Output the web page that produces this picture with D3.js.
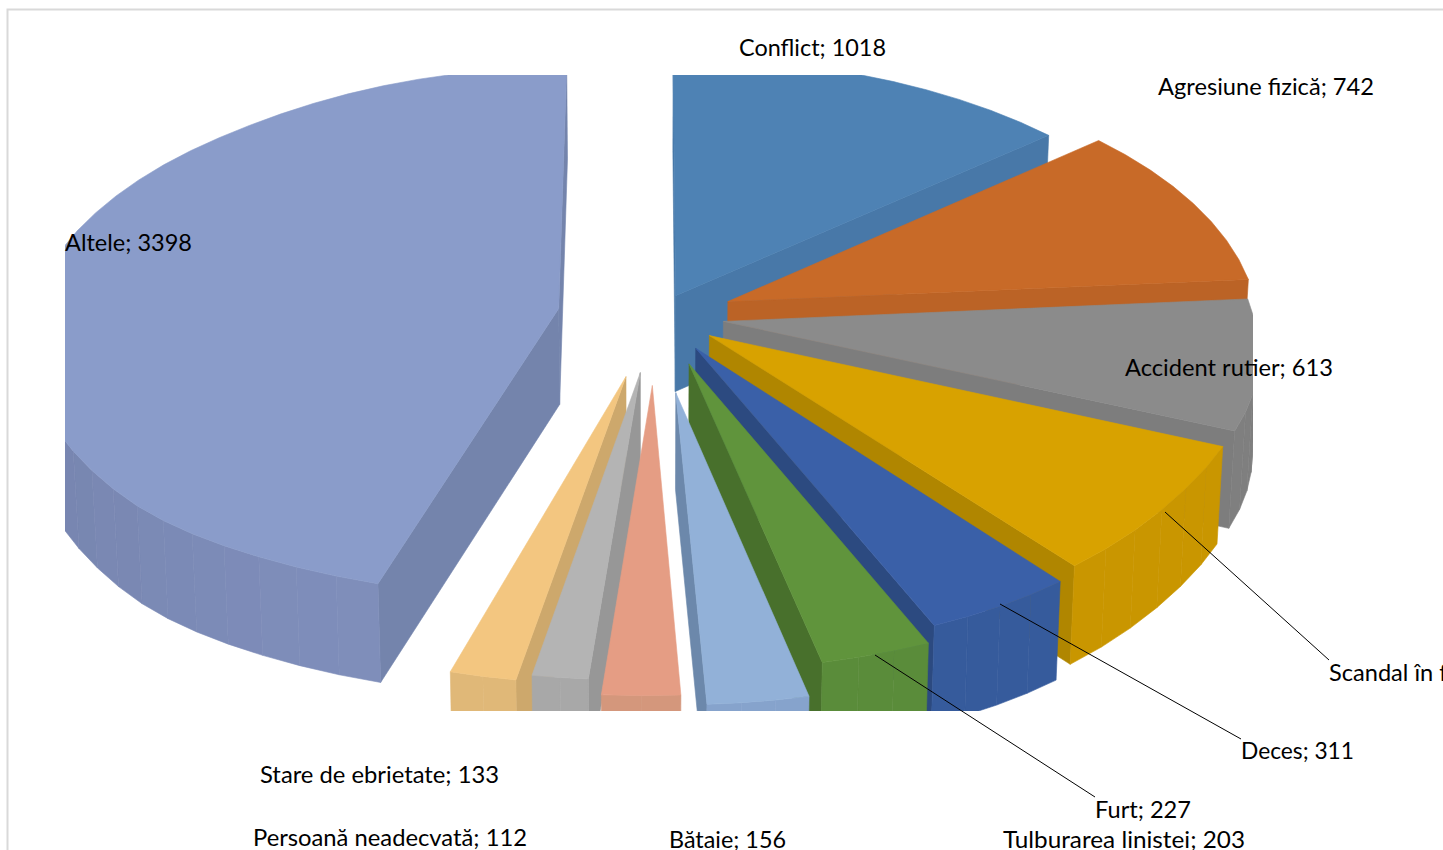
<!DOCTYPE html>
<html><head><meta charset="utf-8">
<script src="https://cdn.jsdelivr.net/npm/d3@7"></script>
<style>html,body{margin:0;padding:0;background:#fff;overflow:hidden}svg{display:block}text{font-family:Lato,sans-serif;fill:#000}</style>
</head><body><svg id="c" width="1443" height="850"></svg>
<script>
// ---- data ----
const categories = ["Conflict","Agresiune fizică","Accident rutier","Scandal în familie","Deces","Furt","Tulburarea linistei","Bătaie","Persoană neadecvată","Stare de ebrietate","Altele"];
const values = [1018,742,613,530,311,227,203,156,112,133,3398];
// ---- styling / layout ----
const topColors  = ["#4e82b4","#c86a28","#8b8b8b","#d8a200","#3a60a8","#60943c","#92b1d8","#e59d84","#b4b4b4","#f3c680","#8a9cca"];
const wallColors = ["#4878a8","#bb6326","#7d7d7d","#b08600","#2c4a80","#48702c","#6c88ab","#d4917a","#979797","#cda86c","#7484ac"];
const rimColors  = ["#4878a8","#bb6326","#7f7f7f","#c99600","#365b9c","#5a8c3a","#86a3cc","#d4977c","#a8a8a8","#e0b878","#7f8ebb"];
const explosion  = [.09,.16,.14,.14,.156,.208,.297,.267,.222,.24,.17];
const explodeNudgeDeg = [11,0,0,0,0,0,0,0,0,0,6];
const explodeShiftX = [0,.004,.004,.004,.006,.008,.006,.008,.011,.011,-.004];
const explodeShiftY = [0,.011,0,-.008,-.008,-.015,-.008,-.008,-.008,-.008,0];
const drawOrder = [0,1,2,3,4,5,6,10,9,8,7];
const labelX = [739,1158,1125,1329,1241,1095,1003,669,253,260,65];
const labelY = [56,95,376,681,759,818,848,848,846,783,251];
const labelW = [147,216,208,null,113,96,242,117,274,239,127];
const leaderFrom = {3:[1165,512],4:[1000,604],5:[875,655]};
const leaderTo   = {3:[1329,660],4:[1241,739],5:[1095,797]};
const FONT = 23.6;
// ---- camera ----
const u0=648,v0=315,a=530,b=265,k=.098;
const xS=d3.scaleLinear().domain([0,1]).range([u0,u0+a]);
const yS=d3.scaleLinear().domain([0,1]).range([v0,v0+b]);
const sstep=(e0,e1,x)=>{const t=Math.max(0,Math.min(1,(x-e0)/(e1-e0)));return t*t*(3-2*t)};
function proj(X,Y){
  const w=1-k*Y;
  const g=Math.exp(-Math.pow((Y-.5)/.25,2));
  const right=Math.max(0,X)*g;
  const left=9*sstep(0,.35,-X)*(1-sstep(.6,.9,Y))*sstep(-1.2,-.75,Y);
  const front=7*sstep(0,.3,X)*Math.exp(-Math.pow((Y-.92)/.25,2));
  const farLeft=-4*sstep(.6,.9,Y)*sstep(.3,.38,-X);
  const p=[xS(X/w)-10*sstep(.45,1,Y)/w+5*right+farLeft, yS(Y/w)-7*right+left+front];
  p.Y=Y;
  return p;
}
const low=p=>[u0+(p[0]-u0)*.99,p[1]+96+3*p.Y];
const svg=d3.select("#c");
svg.append("rect").attr("x",7.5).attr("y",9.5).attr("width",1600).attr("height",1000).attr("fill","#fff").attr("stroke","#d9d9d9").attr("stroke-width",2);
svg.append("clipPath").attr("id","plot").append("rect").attr("x",65).attr("y",75).attr("width",1188).attr("height",636);
const plot=svg.append("g").attr("clip-path","url(#plot)");
const arcs=d3.pie().sort(null).startAngle(0).endAngle(2*Math.PI)(values);
const line=d3.line();
const area=q=>{let s=0;q.forEach((p,i)=>{const n=q[(i+1)%q.length];s+=p[0]*n[1]-n[0]*p[1]});return s/2};
drawOrder.forEach(i=>{
  const d=arcs[i], mid=(d.startAngle+d.endAngle)/2+explodeNudgeDeg[i]*Math.PI/180;
  const ex=explosion[i]*Math.sin(mid)+explodeShiftX[i], ey=-explosion[i]*Math.cos(mid)+explodeShiftY[i];
  const apex=proj(ex,ey);
  const n=Math.max(2,Math.ceil((d.endAngle-d.startAngle)/(4.5*Math.PI/180)));
  const th=d3.range(n+1).map(j=>d.startAngle+(d.endAngle-d.startAngle)*j/n);
  const rim=th.map(t=>proj(ex+Math.sin(t),ey-Math.cos(t)));
  const g=plot.append("g");
  const face=(q,c)=>g.append("path").attr("d",line(q)+"Z").attr("fill",c).attr("stroke",c).attr("stroke-width",.6);
  const qs=[apex,rim[0],low(rim[0]),low(apex)], qe=[apex,rim[n],low(rim[n]),low(apex)];
  if(area(qs)<0) face(qs,wallColors[i]);
  if(area(qe)>0) face(qe,wallColors[i]);
  for(let j=0;j<n;j++){
    if(rim[j+1][0]<rim[j][0]){
      const deg=(th[j]+th[j+1])/2*180/Math.PI;
      const dark=i===10?Math.min(1,Math.abs(deg-200)/60)*.22+(j%2)*.01:0;
      face([rim[j],rim[j+1],low(rim[j+1]),low(rim[j])],d3.color(rimColors[i]).darker(dark).formatHex());
    }
  }
  face([apex,...rim],topColors[i]);
});
Object.keys(leaderFrom).forEach(i=>svg.append("line").attr("x1",leaderFrom[i][0]).attr("y1",leaderFrom[i][1]).attr("x2",leaderTo[i][0]).attr("y2",leaderTo[i][1]).attr("stroke","#000").attr("stroke-width",1));
categories.forEach((c,i)=>{
  const t=svg.append("text").attr("x",labelX[i]).attr("y",labelY[i]).attr("font-size",FONT).text(c+"; "+values[i]);
  if(labelW[i]) t.attr("textLength",labelW[i]).attr("lengthAdjust","spacingAndGlyphs");
});
</script></body></html>
